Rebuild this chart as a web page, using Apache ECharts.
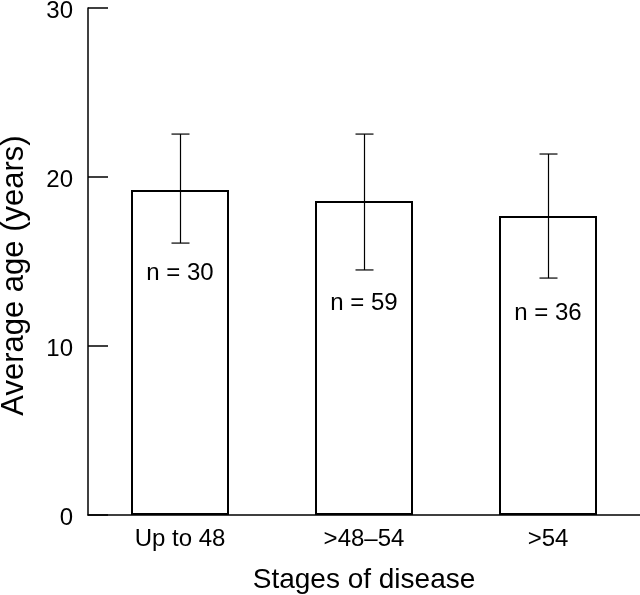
<!DOCTYPE html>
<html><head><meta charset="utf-8">
<script src="https://cdn.jsdelivr.net/npm/echarts@6/dist/echarts.min.js"></script>
<style>html,body{margin:0;padding:0;background:#fff}#c{width:640px;height:595px}</style>
</head><body><div id="c"></div>
<script>
var categories = ['Up to 48', '>48\u201354', '>54'];
var means = [19.23, 18.58, 17.69];
var errUpper = [22.54, 22.54, 21.36];
var errLower = [16.09, 14.5, 14.02];
var nLabels = ['n = 30', 'n = 59', 'n = 36'];
var nLabelY = [14.3, 12.5, 11.95];
var yTicks = [0, 10, 20, 30];

var FONT = 'Liberation Sans, Arial, Helvetica, sans-serif';
var chart = echarts.init(document.getElementById('c'));
chart.setOption({
  animation: false,
  grid: {left: 88, right: 0, top: 8, bottom: 80, containLabel: false, outerBoundsMode: 'none'},
  xAxis: {
    type: 'category', data: categories,
    name: 'Stages of disease', nameLocation: 'middle', nameGap: 51,
    nameTextStyle: {fontFamily: FONT, fontSize: 28, color: '#000'},
    axisLine: {lineStyle: {color: '#000', width: 1.5}},
    axisTick: {show: false},
    axisLabel: {fontFamily: FONT, fontSize: 24, color: '#000', margin: 12}
  },
  yAxis: {
    type: 'value', min: 0, max: 30, interval: 10,
    name: 'Average age (years)', nameLocation: 'middle', nameGap: 58,
    nameTextStyle: {fontFamily: FONT, fontSize: 31, color: '#000', padding: [0, 28, 0, 0]},
    axisLine: {show: true, lineStyle: {color: '#000', width: 1.5}},
    axisTick: {show: true, inside: true, length: 20, lineStyle: {color: '#000', width: 1.5}},
    axisLabel: {fontFamily: FONT, fontSize: 24, color: '#000', margin: 15,
      verticalAlign: 'top', lineHeight: 6,
      formatter: function (v) { return yTicks.indexOf(v) >= 0 ? String(v) : ''; }},
    splitLine: {show: false}
  },
  series: [
    {
      type: 'bar', data: means, barWidth: 98,
      itemStyle: {color: '#fff', borderColor: '#000', borderWidth: 2},
      z: 2
    },
    {
      type: 'custom', z: 3,
      data: categories.map(function (c, i) { return [i, errLower[i], errUpper[i]]; }),
      renderItem: function (params, api) {
        var x = api.value(0);
        var lo = api.coord([x, api.value(1)]);
        var hi = api.coord([x, api.value(2)]);
        var cx = Math.round(hi[0]) + 0.5;
        var hw = 9;
        var st = {stroke: '#000', lineWidth: 1.2};
        return {type: 'group', children: [
          {type: 'line', shape: {x1: cx, y1: hi[1], x2: cx, y2: lo[1]}, style: st},
          {type: 'line', shape: {x1: cx - hw, y1: hi[1], x2: cx + hw, y2: hi[1]}, style: st},
          {type: 'line', shape: {x1: cx - hw, y1: lo[1], x2: cx + hw, y2: lo[1]}, style: st}
        ]};
      }
    },
    {
      type: 'custom', z: 4,
      data: categories.map(function (c, i) { return [i, nLabelY[i]]; }),
      renderItem: function (params, api) {
        var p = api.coord([api.value(0), api.value(1)]);
        return {type: 'text', x: p[0], y: p[1], style: {
          text: nLabels[params.dataIndex], fill: '#000', font: '24px ' + FONT,
          align: 'center', verticalAlign: 'middle'}};
      }
    }
  ]
});
</script></body></html>
